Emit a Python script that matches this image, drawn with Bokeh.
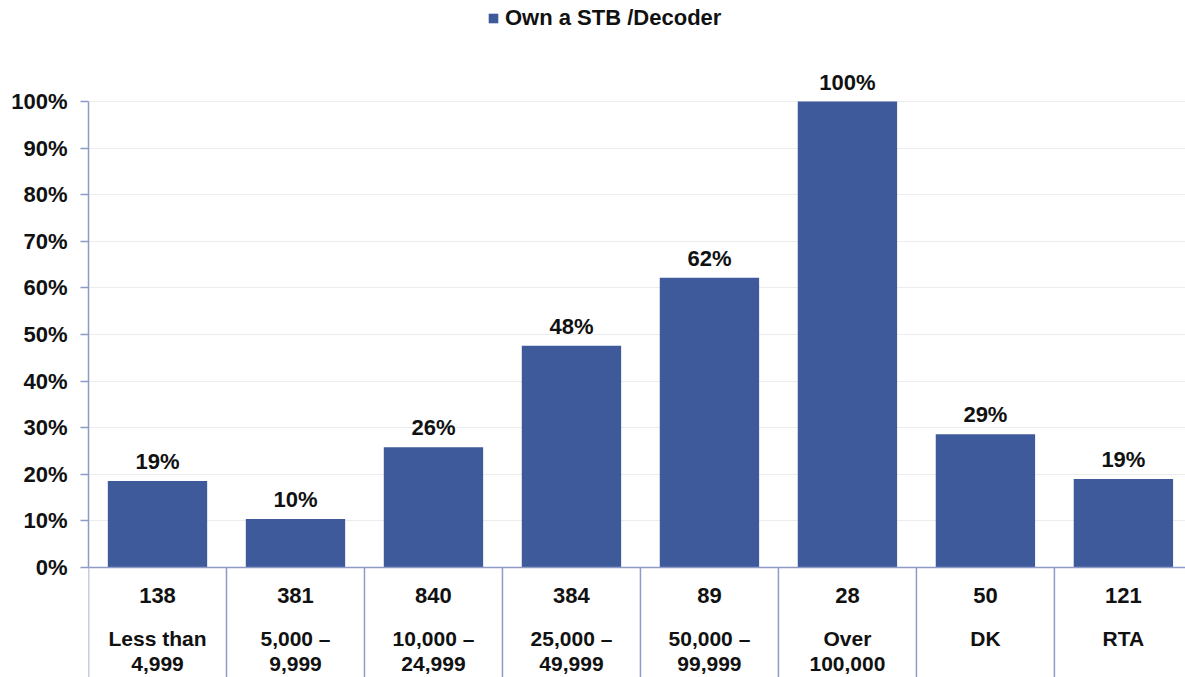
from bokeh.plotting import figure
from bokeh.models import (Range1d, LinearAxis, FixedTicker, PrintfTickFormatter,
                          ColumnDataSource, Legend, LegendItem, Span, Grid)
from bokeh.embed import file_html
from bokeh.resources import INLINE
from bokeh.core.properties import value

categories = ["Less than\n4,999", "5,000 \u2013\n9,999", "10,000 \u2013\n24,999",
              "25,000 \u2013\n49,999", "50,000 \u2013\n99,999", "Over\n100,000", "DK", "RTA"]
sample_sizes = ["138", "381", "840", "384", "89", "28", "50", "121"]
own_stb = [18.6, 10.4, 25.8, 47.6, 62.2, 100.0, 28.6, 19.0]
bar_labels = ["19%", "10%", "26%", "48%", "62%", "100%", "29%", "19%"]
y_ticks = [0, 10, 20, 30, 40, 50, 60, 70, 80, 90, 100]

BAR = "#3F5A9B"
AXIS = "#8E9BC7"
FONT = value("Liberation Sans")
TXT = "#111111"
FS = "22px"

n = len(categories)
centers = [i + 0.5 for i in range(n)]
source = ColumnDataSource(dict(x=centers, top=own_stb, lab=bar_labels,
                               cat=categories, ss=sample_sizes, zero=[0] * n))

p = figure(width=1185, height=677, x_range=Range1d(0, 7.95), y_range=Range1d(-23.6, 121.7),
           x_axis_type=None, y_axis_type=None, toolbar_location=None,
           output_backend="svg", min_border_left=88, min_border_right=0,
           min_border_top=0, min_border_bottom=0, outline_line_color=None)

yaxis = LinearAxis(ticker=FixedTicker(ticks=y_ticks), bounds=(0, 100),
                   formatter=PrintfTickFormatter(format="%d%%"))
yaxis.axis_line_color = AXIS
yaxis.axis_line_width = 1.5
yaxis.major_tick_line_color = AXIS
yaxis.major_tick_line_width = 1.5
yaxis.major_tick_out = 8
yaxis.major_tick_in = 0
yaxis.minor_tick_line_color = None
yaxis.major_label_standoff = 13
yaxis.major_label_text_font = "Liberation Sans"
yaxis.major_label_text_font_style = "bold"
yaxis.major_label_text_font_size = FS
yaxis.major_label_text_color = TXT
p.add_layout(yaxis, "left")

grid = Grid(dimension=1, ticker=FixedTicker(ticks=y_ticks[1:]), bounds=(0, 100))
grid.grid_line_color = "#ECECEC"
grid.grid_line_width = 1
p.add_layout(grid)

bars = p.vbar(x="x", top="top", bottom=0, width=0.72, source=source,
              fill_color=BAR, line_color=None)

# horizontal axis line
p.add_layout(Span(location=0, dimension="width", line_color=AXIS, line_width=1.5))

# category separators below the axis
bounds_x = list(range(n + 1))
p.segment(x0=bounds_x, x1=bounds_x, y0=[0] * (n + 1), y1=[-23.6] * (n + 1),
          line_color=AXIS, line_width=1.5)

p.text(x="x", y="top", text="lab", source=source, text_align="center",
       text_baseline="bottom", y_offset=-7, text_font=FONT, text_font_style="bold",
       text_font_size=FS, text_color=TXT)
p.text(x="x", y="zero", text="ss", source=source, text_align="center",
       text_baseline="middle", y_offset=28, text_font=FONT, text_font_style="bold",
       text_font_size=FS, text_color=TXT)
p.text(x="x", y="zero", text="cat", source=source, text_align="center",
       text_baseline="top", y_offset=59, text_font=FONT, text_font_style="bold",
       text_font_size="21px", text_color=TXT, text_line_height=1.1)

legend = Legend(items=[LegendItem(label="Own a STB /Decoder", renderers=[bars])],
                location=(487 - 88, 677 - 31), orientation="horizontal",
                padding=0, margin=0, glyph_width=12, glyph_height=12,
                label_standoff=6, border_line_color=None,
                background_fill_alpha=0, label_text_font="Liberation Sans",
                label_text_font_style="bold",
                label_text_font_size=FS, label_text_color=TXT)
p.add_layout(legend)

open("out.html", "w").write(file_html(p, INLINE))
